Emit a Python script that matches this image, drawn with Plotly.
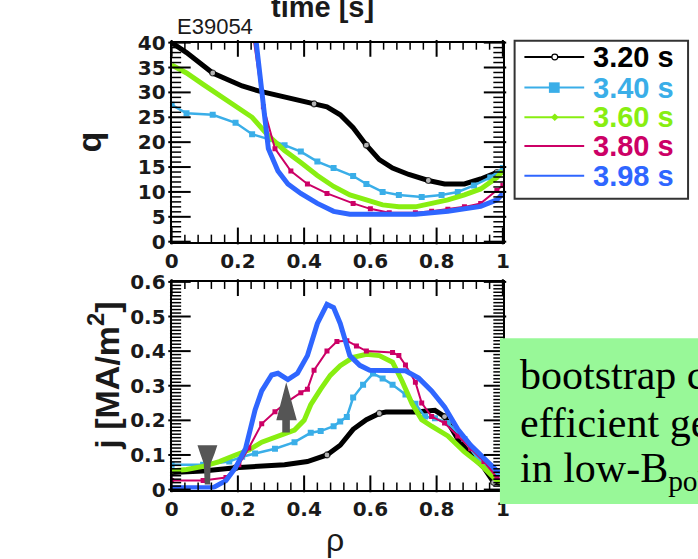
import plotly.graph_objects as go

W, H = 698, 559

# ---------------- data ----------------
times = ["3.20 s", "3.40 s", "3.60 s", "3.80 s", "3.98 s"]
colors = ["#000000", "#3aaee8", "#88ee11", "#cc0066", "#2f66ff"]

q_rho_320 = [0, 0.045, 0.124, 0.213, 0.262, 0.341, 0.43, 0.469, 0.509, 0.548, 0.588, 0.627, 0.667, 0.716, 0.775, 0.824, 0.884, 0.933, 0.982, 1.0]
q_320 = [40, 38, 33.9, 31.3, 30.3, 29, 27.7, 27.1, 25.5, 22.9, 19.4, 16.5, 14.8, 13.5, 12.3, 11.6, 11.6, 12.6, 13.9, 13.9]

q_rho_340 = [0, 0.045, 0.124, 0.193, 0.243, 0.292, 0.341, 0.39, 0.44, 0.489, 0.548, 0.588, 0.637, 0.686, 0.755, 0.815, 0.864, 0.913, 0.962, 1.0]
q_340 = [27.5, 25.8, 25.5, 23.9, 21.6, 20.6, 19.4, 18.1, 16.1, 14.8, 13.2, 11.6, 10.0, 9.4, 9.0, 9.4, 10.0, 11.3, 12.9, 14.8]

q_rho_360 = [0, 0.045, 0.095, 0.144, 0.193, 0.243, 0.292, 0.341, 0.39, 0.44, 0.489, 0.538, 0.588, 0.637, 0.686, 0.736, 0.785, 0.834, 0.884, 0.933, 0.982, 1.0]
q_360 = [35.5, 33.9, 31.6, 29.4, 27.4, 25.0, 21.3, 18.3, 15.9, 13.3, 11.1, 9.4, 8.4, 7.4, 7.0, 7.0, 7.7, 8.4, 9.4, 10.6, 12.9, 14.2]

q_rho_380 = [0.245, 0.277, 0.312, 0.36, 0.41, 0.469, 0.548, 0.6, 0.657, 0.736, 0.785, 0.834, 0.884, 0.933, 0.982, 1.0]
q_380 = [42, 27.1, 18.7, 14.2, 11.6, 9.7, 7.7, 6.6, 5.8, 5.8, 6.1, 6.5, 7.0, 7.7, 10.3, 11.3]

q_rho_398 = [0.252, 0.272, 0.282, 0.292, 0.321, 0.351, 0.39, 0.44, 0.489, 0.538, 0.637, 0.736, 0.834, 0.884, 0.933, 0.982, 1.0]
q_398 = [42, 30.3, 23.9, 18.7, 14.2, 11.6, 9.7, 7.7, 6.1, 5.5, 5.5, 5.5, 6.1, 6.5, 7.1, 8.4, 9.7]

j_rho_320 = [0, 0.095, 0.193, 0.243, 0.341, 0.41, 0.469, 0.509, 0.548, 0.588, 0.627, 0.647, 0.736, 0.795, 0.824, 0.864, 0.903, 0.943, 0.972, 1.0]
j_320 = [0.049, 0.054, 0.063, 0.065, 0.072, 0.081, 0.1, 0.128, 0.174, 0.202, 0.22, 0.224, 0.224, 0.229, 0.211, 0.146, 0.1, 0.063, 0.021, 0.017]

j_rho_340 = [0, 0.095, 0.174, 0.213, 0.252, 0.312, 0.371, 0.42, 0.45, 0.489, 0.509, 0.529, 0.548, 0.578, 0.608, 0.637, 0.667, 0.706, 0.736, 0.765, 0.795, 0.834, 0.884, 0.923, 0.962, 1.0]
j_340 = [0.072, 0.072, 0.081, 0.095, 0.104, 0.118, 0.137, 0.164, 0.169, 0.183, 0.197, 0.21, 0.266, 0.303, 0.335, 0.321, 0.303, 0.275, 0.248, 0.211, 0.206, 0.192, 0.146, 0.09, 0.054, 0.035]

j_rho_360 = [0, 0.045, 0.095, 0.144, 0.193, 0.233, 0.272, 0.321, 0.371, 0.4, 0.42, 0.45, 0.479, 0.509, 0.548, 0.588, 0.627, 0.667, 0.696, 0.726, 0.755, 0.785, 0.834, 0.884, 0.933, 0.982, 1.0]
j_360 = [0.054, 0.058, 0.067, 0.081, 0.1, 0.114, 0.137, 0.155, 0.172, 0.2, 0.245, 0.29, 0.33, 0.358, 0.382, 0.391, 0.387, 0.368, 0.313, 0.248, 0.202, 0.183, 0.155, 0.109, 0.072, 0.026, 0.021]

j_rho_380 = [0, 0.095, 0.164, 0.203, 0.233, 0.272, 0.312, 0.351, 0.39, 0.41, 0.43, 0.469, 0.499, 0.529, 0.558, 0.588, 0.667, 0.686, 0.706, 0.736, 0.755, 0.785, 0.824, 0.864, 0.903, 0.943, 0.982, 1.0]
j_380 = [0.026, 0.026, 0.035, 0.072, 0.12, 0.19, 0.225, 0.255, 0.28, 0.29, 0.345, 0.4, 0.428, 0.43, 0.415, 0.4, 0.396, 0.387, 0.36, 0.31, 0.25, 0.211, 0.192, 0.155, 0.118, 0.081, 0.035, 0.026]

j_rho_398 = [0, 0.124, 0.164, 0.193, 0.223, 0.252, 0.272, 0.302, 0.321, 0.351, 0.38, 0.41, 0.44, 0.469, 0.489, 0.509, 0.538, 0.568, 0.598, 0.637, 0.706, 0.746, 0.785, 0.824, 0.864, 0.903, 0.943, 0.982, 1.0]
j_398 = [0.005, 0.005, 0.026, 0.063, 0.118, 0.23, 0.285, 0.331, 0.336, 0.318, 0.336, 0.387, 0.48, 0.535, 0.526, 0.48, 0.387, 0.359, 0.345, 0.343, 0.343, 0.322, 0.285, 0.239, 0.174, 0.128, 0.09, 0.054, 0.049]

q_sets = [(q_rho_320, q_320), (q_rho_340, q_340), (q_rho_360, q_360), (q_rho_380, q_380), (q_rho_398, q_398)]
j_sets = [(j_rho_320, j_320), (j_rho_340, j_340), (j_rho_360, j_360), (j_rho_380, j_380), (j_rho_398, j_398)]

rho_range, q_range, j_range = [0, 1], [0, 40], [0, 0.6]
rho_tick_step, rho_minor_step, rho_minor_per = 0.2, 0.04, 5
q_tick_step, q_minor_step, q_minor_per = 5, 1, 5
j_tick_step, j_minor_step, j_minor_per = 0.1, 0.01, 10

line_widths = [5, 2.5, 5, 2, 5]
marker_syms = ["circle-open", "square", "circle", "square", "circle"]
marker_sizes = [0, 6, 0, 5, 0]


def px(x):
    return x / W


def py(y):
    return 1 - y / H


# panel frames (pixels)
L, R = 168, 506
T1, B1 = 32, 240
T2, B2 = 282, 499

fig = go.Figure()

for k in range(5):
    for (rr, vv), xa, ya in ((q_sets[k], "x", "y"), (j_sets[k], "x2", "y2")):
        if k == 0:
            sizes = [6 if (i % 4 == 2) else 0 for i in range(len(rr))]
            mk = dict(symbol="circle", size=sizes, color="white",
                      line=dict(color="black", width=1.2))
            mode = "lines+markers"
        elif marker_sizes[k] > 0:
            mk = dict(symbol=marker_syms[k], size=marker_sizes[k], color=colors[k], line=dict(width=0))
            mode = "lines+markers"
        else:
            mk = None
            mode = "lines"
        tr = go.Scatter(x=rr, y=vv, mode=mode, xaxis=xa, yaxis=ya,
                        line=dict(color=colors[k], width=line_widths[k]),
                        showlegend=False, hoverinfo="skip")
        if mk is not None:
            tr.marker = mk
        fig.add_trace(tr)


def inward_tick_traces(xa, ya, xr, yr, x_minor, x_per, y_minor, y_per, pw, ph):
    """ROOT-style inward ticks on all four sides of a panel, drawn as line-marker glyphs
    centred half a tick length inside the frame."""
    xu = (xr[1] - xr[0]) / pw
    yu = (yr[1] - yr[0]) / ph
    groups = {}
    nx = int(round((xr[1] - xr[0]) / x_minor))
    for i in range(nx + 1):
        v = xr[0] + i * x_minor
        ln = 12 if i % x_per == 0 else 6
        g = groups.setdefault(("line-ns", ln), ([], []))
        g[0].extend([v, v])
        g[1].extend([yr[0] + ln / 2 * yu, yr[1] - ln / 2 * yu])
    ny = int(round((yr[1] - yr[0]) / y_minor))
    for i in range(ny + 1):
        v = yr[0] + i * y_minor
        ln = 16 if i % y_per == 0 else 8
        g = groups.setdefault(("line-ew", ln), ([], []))
        g[0].extend([xr[0] + ln / 2 * xu, xr[1] - ln / 2 * xu])
        g[1].extend([v, v])
    out = []
    for (sym, ln), (xs, ys) in groups.items():
        wd = 2 if ln >= 12 else 1.5
        out.append(go.Scatter(x=xs, y=ys, mode="markers", xaxis=xa, yaxis=ya,
                              marker=dict(symbol=sym, size=ln, color="black",
                                          line=dict(color="black", width=wd)),
                              cliponaxis=False, showlegend=False, hoverinfo="skip"))
    return out


pw = R - L
for tr in inward_tick_traces("x", "y", rho_range, q_range, rho_minor_step, rho_minor_per,
                             q_minor_step, q_minor_per, pw, B1 - T1):
    fig.add_trace(tr)
for tr in inward_tick_traces("x2", "y2", rho_range, j_range, rho_minor_step, rho_minor_per,
                             j_minor_step, j_minor_per, pw, B2 - T2):
    fig.add_trace(tr)

tickfont = dict(family="DejaVu Sans", size=20, color="#1a1a1a", weight="bold")


def main_axis(rng, step):
    return dict(range=rng, showline=True, linewidth=2, linecolor="black", mirror=True,
                ticks="", tick0=0, dtick=step, tickfont=tickfont,
                showgrid=False, zeroline=False, fixedrange=True)


xd = [px(L), px(R)]
fig.update_layout(
    width=W, height=H, margin=dict(l=0, r=0, t=0, b=0),
    paper_bgcolor="white", plot_bgcolor="white", showlegend=False,
    xaxis=dict(domain=xd, anchor="y", **main_axis(rho_range, rho_tick_step)),
    xaxis2=dict(domain=xd, anchor="y2", **main_axis(rho_range, rho_tick_step)),
    yaxis=dict(domain=[py(B1), py(T1)], anchor="x", **main_axis(q_range, q_tick_step)),
    yaxis2=dict(domain=[py(B2), py(T2)], anchor="x2", **main_axis(j_range, j_tick_step)),
)

shapes = []
# gray arrows on the j panel
shapes.append(dict(type="path", xref="x2", yref="y2", layer="above",
                   path="M 0.078,0.128 L 0.138,0.128 L 0.13,0.105 L 0.118,0.075 L 0.116,0.015 "
                        "L 0.1,0.015 L 0.097,0.075 L 0.086,0.105 Z",
                   fillcolor="#555555", line=dict(width=0)))
shapes.append(dict(type="path", xref="x2", yref="y2", layer="above",
                   path="M 0.346,0.31 L 0.378,0.2 L 0.357,0.2 L 0.357,0.165 L 0.334,0.165 "
                        "L 0.334,0.2 L 0.316,0.2 Z",
                   fillcolor="#555555", line=dict(width=0)))

# legend
shapes.append(dict(type="rect", xref="paper", yref="paper",
                   x0=px(518), x1=px(695), y0=py(195), y1=py(30),
                   line=dict(color="#333333", width=2), fillcolor="white", layer="above"))
leg_y = [47, 79, 110, 140, 171]
annotations = []
for k in range(5):
    shapes.append(dict(type="line", xref="paper", yref="paper",
                       x0=px(528), x1=px(589), y0=py(leg_y[k]), y1=py(leg_y[k]),
                       line=dict(color=colors[k], width=2), layer="above"))
    annotations.append(dict(xref="paper", yref="paper", x=px(596), y=py(leg_y[k]),
                            xanchor="left", yanchor="middle", showarrow=False,
                            text="<b>" + times[k] + "</b>",
                            font=dict(family="Liberation Sans", size=29, color=colors[k])))
shapes.append(dict(type="circle", xref="paper", yref="paper",
                   x0=px(556), x1=px(562), y0=py(50), y1=py(44),
                   line=dict(color="black", width=1.2), fillcolor="white", layer="above"))
shapes.append(dict(type="rect", xref="paper", yref="paper",
                   x0=px(553), x1=px(564), y0=py(84.5), y1=py(73.5),
                   line=dict(width=0), fillcolor=colors[1], layer="above"))
shapes.append(dict(type="path", xref="paper", yref="paper",
                   path=f"M {px(559)},{py(106)} L {px(563)},{py(110)} L {px(559)},{py(114)} L {px(555)},{py(110)} Z",
                   line=dict(width=0), fillcolor=colors[2], layer="above"))

# green text box
shapes.append(dict(type="rect", xref="paper", yref="paper",
                   x0=px(503), x1=1.05, y0=py(514), y1=py(341),
                   line=dict(width=0), fillcolor="#98f898", layer="above"))
box_lines = ["bootstrap current", "efficient generation", "in low-B<sub>pol</sub> plasma"]
box_y = [379, 429, 480]
for t, yy in zip(box_lines, box_y):
    annotations.append(dict(xref="paper", yref="paper", x=px(521), y=py(yy),
                            xanchor="left", yanchor="middle", showarrow=False, text=t,
                            font=dict(family="Liberation Serif", size=42, color="black")))

annotations += [
    dict(xref="paper", yref="paper", x=px(322), y=py(-5), xanchor="center", yanchor="middle",
         showarrow=False, text="<b>time [s]</b>",
         font=dict(family="Liberation Sans", size=29, color="#1a1a1a")),
    dict(xref="paper", yref="paper", x=px(171), y=py(15), xanchor="left", yanchor="middle",
         showarrow=False, text="E39054",
         font=dict(family="Liberation Sans", size=22, color="#1a1a1a")),
    dict(xref="paper", yref="paper", x=px(84), y=py(136), xanchor="center", yanchor="middle",
         showarrow=False, text="<b>q</b>", textangle=-90,
         font=dict(family="Liberation Sans", size=34, color="#1a1a1a")),
    dict(xref="paper", yref="paper", x=px(99), y=py(380), xanchor="center", yanchor="middle",
         showarrow=False, text="<b>j [MA/m<sup>2</sup>]</b>", textangle=-90,
         font=dict(family="Liberation Sans", size=34, color="#1a1a1a")),
    dict(xref="paper", yref="paper", x=px(335), y=py(552), xanchor="center", yanchor="middle",
         showarrow=False, text="ρ",
         font=dict(family="Liberation Sans", size=32, color="#1a1a1a")),
]

fig.update_layout(shapes=shapes, annotations=annotations)
fig.write_html("out.html")
